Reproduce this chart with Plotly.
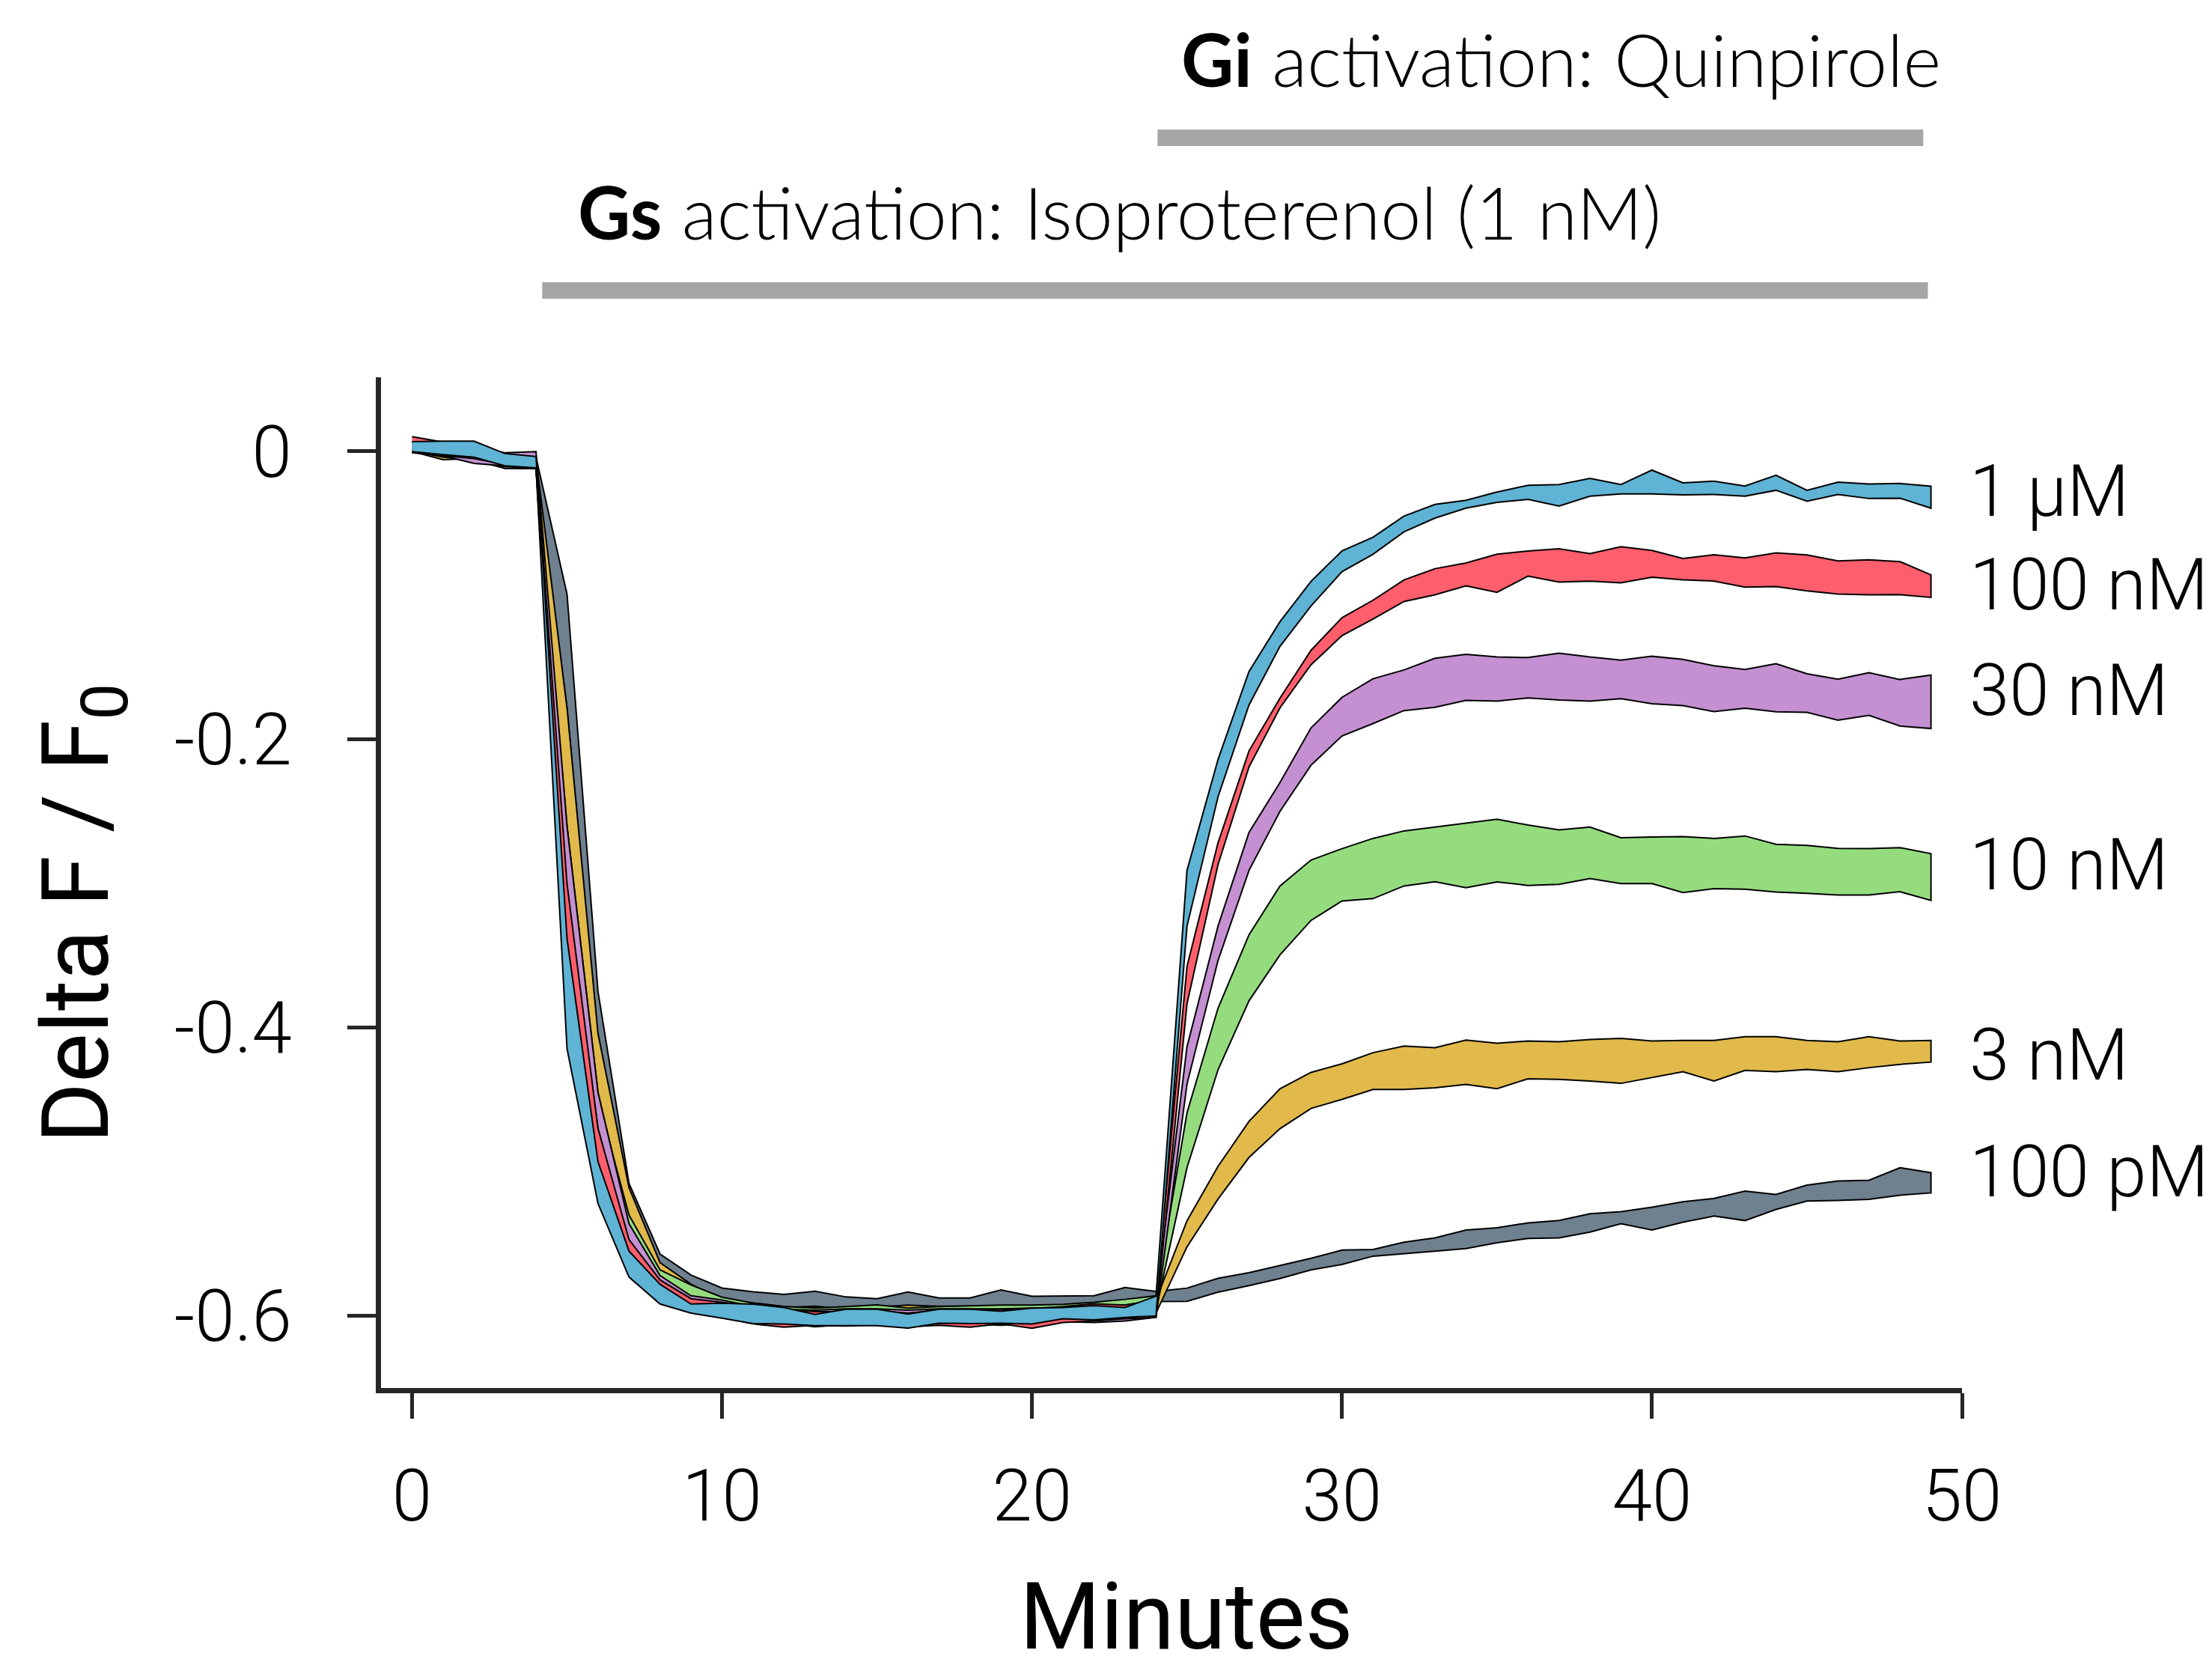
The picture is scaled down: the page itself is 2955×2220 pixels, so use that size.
import plotly.graph_objects as go

# time points (minutes)
minutes = list(range(50))

# band edges (mean +/- error), per concentration
upper_100pM = [0.0050, 0.0050, 0.0040, -0.0020, -0.0040,
               -0.099, -0.375, -0.508, -0.557, -0.5716,
               -0.5806, -0.5832, -0.5851, -0.5829, -0.5868, -0.5880, -0.5834, -0.5875, -0.5875, -0.5820,
               -0.5863, -0.5863, -0.5860, -0.5803, -0.5830,
               -0.5807, -0.5739, -0.5700, -0.5650, -0.5600,
               -0.5543, -0.5539, -0.5488, -0.5458, -0.5404, -0.5388, -0.5354, -0.5338, -0.5291, -0.5277,
               -0.5245, -0.5208, -0.5184, -0.5134, -0.5157, -0.5092, -0.5064, -0.5058, -0.4971, -0.5006]
lower_100pM = [0.0000, -0.0030, -0.0060, -0.0118, -0.0120,
               -0.178, -0.410, -0.530, -0.575, -0.588,
               -0.5915, -0.5924, -0.5941, -0.5932, -0.5953, -0.5932, -0.5932, -0.5932, -0.5932, -0.5941,
               -0.5932, -0.5930, -0.5915, -0.5901, -0.5900,
               -0.5899, -0.5835, -0.5790, -0.5740, -0.5680,
               -0.5643, -0.5585, -0.5569, -0.5550, -0.5532, -0.5492, -0.5462, -0.5458, -0.5418, -0.5360,
               -0.5404, -0.5349, -0.5307, -0.5338, -0.5261, -0.5203, -0.5199, -0.5191, -0.5162, -0.5146]

upper_3nM = [0.0060, 0.0050, 0.0030, -0.0030, -0.0050,
             -0.178, -0.404, -0.511, -0.563, -0.578,
             -0.5890, -0.5910, -0.5935, -0.5945, -0.5940, -0.5940, -0.5925, -0.5935, -0.5940, -0.5940,
             -0.5935, -0.5930, -0.5920, -0.5910, -0.5890,
             -0.5340, -0.4962, -0.4650, -0.4424, -0.4310,
             -0.4250, -0.4173, -0.4127, -0.4139, -0.4085, -0.4108, -0.4092, -0.4097, -0.4081, -0.4074,
             -0.4092, -0.4088, -0.4088, -0.4062, -0.4062, -0.4088, -0.4097, -0.4062, -0.4092, -0.4088]
lower_3nM = [0.0000, -0.0057, -0.0050, -0.0100, -0.0120,
             -0.260, -0.445, -0.536, -0.580, -0.592,
             -0.5980, -0.6000, -0.6020, -0.6030, -0.6030, -0.6030, -0.6040, -0.6030, -0.6030, -0.6030,
             -0.6030, -0.6020, -0.6010, -0.6000, -0.5980,
             -0.5520, -0.5189, -0.4900, -0.4700, -0.4560,
             -0.4497, -0.4428, -0.4428, -0.4416, -0.4393, -0.4423, -0.4354, -0.4358, -0.4370, -0.4386,
             -0.4347, -0.4305, -0.4370, -0.4296, -0.4305, -0.4289, -0.4305, -0.4277, -0.4254, -0.4238]

upper_10nM = [0.0060, 0.0060, 0.0040, -0.0020, -0.0040,
              -0.280, -0.450, -0.530, -0.568, -0.5785,
              -0.5870, -0.5910, -0.5935, -0.5945, -0.5935, -0.5923, -0.5945, -0.5935, -0.5930, -0.5925,
              -0.5925, -0.5920, -0.5905, -0.5885, -0.5860,
              -0.4591, -0.3865, -0.3355, -0.3016, -0.2836,
              -0.2757, -0.2686, -0.2634, -0.2607, -0.2583, -0.2553, -0.2593, -0.2627, -0.2607, -0.2681,
              -0.2676, -0.2674, -0.2686, -0.2669, -0.2727, -0.2734, -0.2755, -0.2757, -0.2750, -0.2792]
lower_10nM = [0.0000, -0.0040, -0.0060, -0.0105, -0.0115,
              -0.330, -0.490, -0.555, -0.583, -0.593,
              -0.5960, -0.5980, -0.6000, -0.6010, -0.6005, -0.6010, -0.6020, -0.6050, -0.6020, -0.6000,
              -0.6000, -0.6000, -0.5990, -0.5980, -0.5960,
              -0.4970, -0.4292, -0.3813, -0.3494, -0.3255,
              -0.3120, -0.3104, -0.3016, -0.2986, -0.3028, -0.2988, -0.3012, -0.3005, -0.2965, -0.3000,
              -0.3000, -0.3062, -0.3035, -0.3039, -0.3058, -0.3067, -0.3079, -0.3079, -0.3056, -0.3116]

upper_30nM = [0.0060, 0.0050, 0.0040, -0.0010, -0.0002,
              -0.260, -0.445, -0.536, -0.572, -0.586,
              -0.5890, -0.5935, -0.5955, -0.5960, -0.5950, -0.5950, -0.5960, -0.5950, -0.5950, -0.5950,
              -0.5945, -0.5940, -0.5930, -0.5925, -0.5890,
              -0.4132, -0.3295, -0.2645, -0.2298, -0.1919,
              -0.1707, -0.1578, -0.1517, -0.1436, -0.1408, -0.1426, -0.1431, -0.1401, -0.1427, -0.1448,
              -0.1422, -0.1443, -0.1488, -0.1514, -0.1474, -0.1543, -0.1581, -0.1536, -0.1583, -0.1552]
lower_30nM = [0.0000, -0.0030, -0.0083, -0.0100, -0.0110,
              -0.310, -0.470, -0.550, -0.586, -0.597,
              -0.6000, -0.6030, -0.6050, -0.6075, -0.6060, -0.6060, -0.6082, -0.6050, -0.6055, -0.6065,
              -0.6050, -0.6040, -0.6045, -0.6035, -0.6010,
              -0.4391, -0.3534, -0.2908, -0.2498, -0.2178,
              -0.1975, -0.1889, -0.1799, -0.1776, -0.1728, -0.1733, -0.1711, -0.1725, -0.1733, -0.1716,
              -0.1751, -0.1764, -0.1806, -0.1782, -0.1807, -0.1811, -0.1866, -0.1832, -0.1906, -0.1923]

upper_100nM = [0.0102, 0.0065, 0.0040, -0.0020, -0.0050,
               -0.300, -0.470, -0.547, -0.575, -0.588,
               -0.5905, -0.5935, -0.5950, -0.5970, -0.5970, -0.5965, -0.5980, -0.5960, -0.5960, -0.5955,
               -0.5950, -0.5935, -0.5915, -0.5925, -0.5890,
               -0.3574, -0.2717, -0.2079, -0.1712, -0.1381,
               -0.1154, -0.1033, -0.0892, -0.0814, -0.0774, -0.0714, -0.0691, -0.0676, -0.0709, -0.0662,
               -0.0688, -0.0743, -0.0717, -0.0740, -0.0705, -0.0719, -0.0760, -0.0753, -0.0765, -0.0857]
lower_100nM = [-0.0010, -0.0030, -0.0050, -0.0090, -0.0120,
               -0.345, -0.500, -0.562, -0.589, -0.597,
               -0.6010, -0.6055, -0.6078, -0.6065, -0.6070, -0.6060, -0.6075, -0.6065, -0.6078, -0.6055,
               -0.6085, -0.6045, -0.6035, -0.6020, -0.6010,
               -0.3834, -0.2868, -0.2190, -0.1780, -0.1481,
               -0.1279, -0.1163, -0.1042, -0.0995, -0.0933, -0.0978, -0.0866, -0.0907, -0.0900, -0.0912,
               -0.0873, -0.0892, -0.0900, -0.0942, -0.0938, -0.0968, -0.0990, -0.0995, -0.0994, -0.1013]

upper_1uM = [0.0067, 0.0071, 0.0071, -0.0015, -0.0036,
             -0.338, -0.493, -0.555, -0.578, -0.5917,
             -0.5911, -0.5918, -0.5941, -0.5989, -0.5953, -0.5953, -0.5987, -0.5953, -0.5953, -0.5967,
             -0.5946, -0.5941, -0.5929, -0.5941, -0.5863,
             -0.2908, -0.2139, -0.1528, -0.1182, -0.0902,
             -0.0691, -0.0596, -0.0449, -0.0368, -0.0339, -0.0282, -0.0235, -0.0230, -0.0187, -0.0230,
             -0.0130, -0.0218, -0.0207, -0.0240, -0.0166, -0.0270, -0.0213, -0.0226, -0.0223, -0.0242]
lower_1uM = [-0.0002, -0.0023, -0.0040, -0.0100, -0.0114,
             -0.4145, -0.522, -0.573, -0.5917, -0.598,
             -0.6015, -0.6053, -0.6056, -0.6067, -0.6067, -0.6067, -0.6084, -0.6050, -0.6053, -0.6050,
             -0.6056, -0.6019, -0.6027, -0.6010, -0.6000,
             -0.3295, -0.2398, -0.1760, -0.1353, -0.1073,
             -0.0835, -0.0714, -0.0558, -0.0463, -0.0394, -0.0354, -0.0333, -0.0380, -0.0311, -0.0295,
             -0.0295, -0.0302, -0.0299, -0.0311, -0.0270, -0.0346, -0.0299, -0.0327, -0.0325, -0.0394]

labels = ["100 pM", "3 nM", "10 nM", "30 nM", "100 nM", "1 μM"]
label_y = [-0.4998, -0.4187, -0.287, -0.166, -0.0925, -0.0278]
colors = ["#6F808F", "#E1BA4B", "#95DC7F", "#C490D1", "#FF5E6C", "#5FB3D4"]
uppers = [upper_100pM, upper_3nM, upper_10nM, upper_30nM, upper_100nM, upper_1uM]
lowers = [lower_100pM, lower_3nM, lower_10nM, lower_30nM, lower_100nM, lower_1uM]

x_ticks = [0, 10, 20, 30, 40, 50]
y_ticks = [0, -0.2, -0.4, -0.6]
y_ticktext = ["0", "-0.2", "-0.4", "-0.6"]

# drug application periods (minutes)
gs_period = [4.2, 48.9]
gi_period = [24.05, 48.75]

axis_color = "#262626"
tick_font = dict(family="Roboto", size=96, color="black", weight=300)
title_font = dict(family="Roboto", size=124, color="black")

fig = go.Figure()
for lab, col, up, lo, ly in zip(labels, colors, uppers, lowers, label_y):
    fig.add_trace(go.Scatter(
        x=minutes + minutes[::-1],
        y=up + lo[::-1],
        fill='toself',
        fillcolor=col,
        mode='lines',
        line=dict(color='black', width=2),
        name=lab,
        showlegend=False,
        hoverinfo='skip'
    ))
    # concentration label at the right end of each band
    fig.add_annotation(x=1.004, y=ly, xref='paper', yref='y',
                       text=lab, showarrow=False, xanchor='left', yanchor='middle',
                       font=tick_font)

fig.update_layout(
    width=2955, height=2220, autosize=False,
    margin=dict(l=501, r=342, t=496, b=374, pad=0),
    plot_bgcolor='white', paper_bgcolor='white',
    font=dict(family="Roboto", color="black"),
)

fig.update_xaxes(
    range=[-1, 50], tickvals=x_ticks, ticks='outside', ticklen=34, tickwidth=5,
    tickcolor=axis_color, showline=True, linewidth=7, linecolor=axis_color,
    showgrid=False, zeroline=False, tickfont=tick_font, ticklabelstandoff=21
)
fig.update_yaxes(
    range=[-0.65, 0.0514], tickvals=y_ticks, ticktext=y_ticktext, ticks='outside', ticklen=38,
    tickwidth=5, tickcolor=axis_color, showline=True, linewidth=7, linecolor=axis_color,
    showgrid=False, zeroline=False, tickfont=tick_font, ticklabelstandoff=55
)

# axis titles
fig.add_annotation(x=0.5095, y=-0.226, xref='paper', yref='paper', showarrow=False,
                   text="Minutes", font=title_font, xanchor='center', yanchor='middle')
fig.add_annotation(x=-0.189, y=0.470, xref='paper', yref='paper', showarrow=False,
                   text="Delta F / F<sub>0</sub>", font=title_font, textangle=-90,
                   xanchor='center', yanchor='middle')

# activation bars and their labels
bar_color = "#A5A5A5"
fig.add_shape(type='line', xref='x', yref='paper', x0=gs_period[0], x1=gs_period[1],
              y0=1.086, y1=1.086, line=dict(color=bar_color, width=22))
fig.add_shape(type='line', xref='x', yref='paper', x0=gi_period[0], x1=gi_period[1],
              y0=1.237, y1=1.237, line=dict(color=bar_color, width=22))

head_font = dict(family="Lato", size=97, color="black", weight=300)
fig.add_annotation(x=0.467, y=1.164, xref='paper', yref='paper', showarrow=False,
                   text="<b>Gs</b> activation: Isoproterenol (1 nM)", font=head_font,
                   xanchor='center', yanchor='middle')
fig.add_annotation(x=0.7465, y=1.315, xref='paper', yref='paper', showarrow=False,
                   text="<b>Gi</b> activation: Quinpirole", font=head_font,
                   xanchor='center', yanchor='middle')

fig.write_html("out.html")
